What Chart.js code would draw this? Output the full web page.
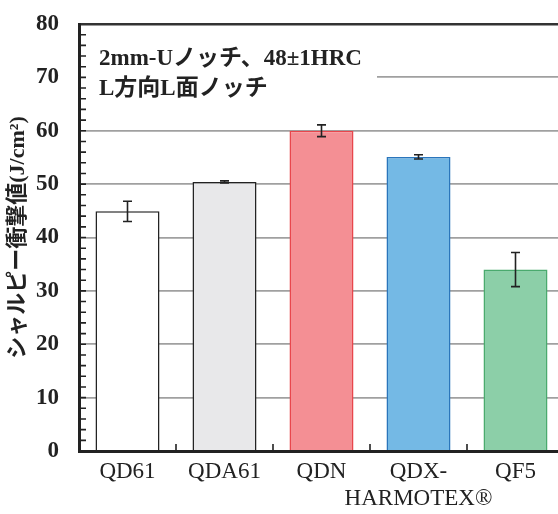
<!DOCTYPE html>
<html>
<head>
<meta charset="utf-8">
<script src="https://cdn.jsdelivr.net/npm/chart.js@4.4.1/dist/chart.umd.min.js"></script>
<style>
    html, body { margin: 0; padding: 0; background: #fff; overflow: hidden; }
    #wrap { width: 566px; height: 514px; position: relative; }
</style>
</head>
<body>
<div id="wrap"><canvas id="impactChart"></canvas></div>
<script>
// ================== DATA ==================
const categories = ['QD61', 'QDA61', 'QDN', ['QDX-', 'HARMOTEX®'], 'QF5'];
const impactValues = [44.9, 50.4, 60.0, 55.1, 34.0];
const errorValues = [1.9, 0.2, 1.1, 0.4, 3.2];
const fillColors = ['#ffffff', '#e8e8ea', '#f48f94', '#74b9e5', '#8ccfa8'];
const edgeColors = ['#222222', '#222222', '#e8464c', '#2a75bb', '#4aaa6e'];
const yTitle = 'シャルピー衝撃値(J/cm²)';
const noteLines = ['2mm-Uノッチ、48±1HRC', 'L方向L面ノッチ'];

const serif = '"Liberation Serif", "Noto Sans CJK JP", serif';

// white box with the test condition note (hides the 70 grid line behind it)
const notePlugin = {
    id: 'note',
    beforeDatasetsDraw(chart) {
        const ctx = chart.ctx;
        const area = chart.chartArea;
        ctx.save();
        ctx.fillStyle = '#fff';
        ctx.fillRect(area.left + 2, 36, 296, 68);
        ctx.fillStyle = '#222';
        ctx.font = 'bold 23px ' + serif;
        ctx.textBaseline = 'middle';
        ctx.fillText(noteLines[0], 99, 59);
        ctx.fillText(noteLines[1], 99, 89);
        ctx.restore();
    }
};

// error bars + inside tick marks
const errorBarPlugin = {
    id: 'errorBars',
    afterDatasetsDraw(chart) {
        const ctx = chart.ctx;
        const y = chart.scales.y;
        const meta = chart.getDatasetMeta(0);
        ctx.save();
        ctx.strokeStyle = '#222';
        ctx.lineWidth = 1.6;
        meta.data.forEach((bar, i) => {
            const hi = y.getPixelForValue(impactValues[i] + errorValues[i]);
            const lo = y.getPixelForValue(impactValues[i] - errorValues[i]);
            ctx.beginPath();
            ctx.moveTo(bar.x, hi); ctx.lineTo(bar.x, lo);
            ctx.moveTo(bar.x - 4.5, hi); ctx.lineTo(bar.x + 4.5, hi);
            ctx.moveTo(bar.x - 4.5, lo); ctx.lineTo(bar.x + 4.5, lo);
            ctx.stroke();
        });
        ctx.restore();
    },
    afterDraw(chart) {
        const ctx = chart.ctx;
        const area = chart.chartArea;
        const y = chart.scales.y;
        const x = chart.scales.x;
        ctx.save();
        ctx.strokeStyle = '#222';
        ctx.lineWidth = 1.6;
        ctx.beginPath();
        for (let v = 2; v < 80; v += 2) {
            const py = y.getPixelForValue(v);
            ctx.moveTo(area.left, py); ctx.lineTo(area.left + 7, py);
        }
        for (let i = 1; i < categories.length; i++) {
            const px = (x.getPixelForValue(i - 1) + x.getPixelForValue(i)) / 2;
            ctx.moveTo(px, area.bottom); ctx.lineTo(px, area.bottom - 7);
        }
        ctx.stroke();
        ctx.restore();
    }
};

new Chart(document.getElementById('impactChart'), {
    type: 'bar',
    data: {
        labels: categories,
        datasets: [{
            data: impactValues,
            backgroundColor: fillColors,
            borderColor: edgeColors,
            borderWidth: 1.5,
            categoryPercentage: 0.66,
            barPercentage: 1.0
        }]
    },
    options: {
        responsive: true,
        maintainAspectRatio: false,
        animation: false,
        layout: { padding: { top: 24, left: 0, right: 2, bottom: 0 } },
        plugins: {
            legend: { display: false },
            tooltip: { enabled: false }
        },
        scales: {
            y: {
                min: 0,
                max: 80,
                afterFit(scale) {
                    scale.width = 79;
                    scale.paddingTop = 0;
                    scale.paddingBottom = 0;
                },
                ticks: {
                    stepSize: 10,
                    padding: 20,
                    color: '#222',
                    font: { family: serif, size: 23, weight: 'bold' }
                },
                grid: {
                    drawTicks: false,
                    color: ctx => ctx.tick && ctx.tick.value === 80 ? '#333' : '#a0a0a0',
                    lineWidth: ctx => ctx.tick && ctx.tick.value === 80 ? 2.5 : 1.8
                },
                border: { color: '#222', width: 3 },
                title: {
                    display: true,
                    text: yTitle,
                    color: '#222',
                    padding: { top: 5, bottom: 0 },
                    font: { family: serif, size: 22, weight: 'bold' }
                }
            },
            x: {
                afterFit(scale) { scale.height = 63; },
                ticks: {
                    padding: 8,
                    autoSkip: false,
                    color: '#222',
                    maxRotation: 0,
                    font: { family: serif, size: 23, lineHeight: 1.15 }
                },
                grid: { display: false, drawTicks: false },
                border: { color: '#222', width: 3 }
            }
        }
    },
    plugins: [notePlugin, errorBarPlugin]
});
</script>
</body>
</html>
